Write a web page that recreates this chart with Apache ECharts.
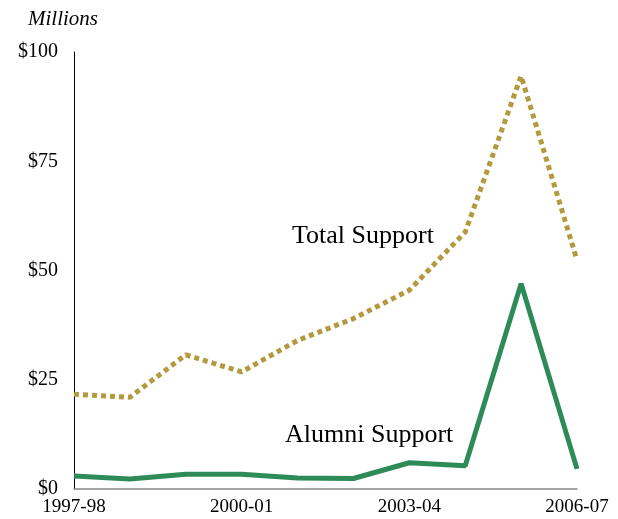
<!DOCTYPE html>
<html><head><meta charset="utf-8">
<script src="https://cdn.jsdelivr.net/npm/echarts@6/dist/echarts.min.js"></script>
<style>html,body{margin:0;padding:0;background:#fff}#c{width:618px;height:519px}</style>
</head><body><div id="c"></div>
<script>
var years = ['1997-98','1998-99','1999-00','2000-01','2001-02','2002-03','2003-04','2004-05','2005-06','2006-07'];
var totalSupport = [21.7, 21.0, 30.7, 26.8, 34.0, 39.0, 45.5, 58.8, 94.5, 52.4];
var alumniSupport = [3.0, 2.3, 3.4, 3.4, 2.5, 2.4, 6.0, 5.3, 47.0, 4.6];
var yTicks = [0, 25, 50, 75, 100];
var serif = '"Liberation Serif", "DejaVu Serif", serif';
var chart = echarts.init(document.getElementById('c'));
chart.setOption({
  animation: false,
  backgroundColor: '#fff',
  grid: {left: 74, right: 41, top: 52, bottom: 30, containLabel: false},
  xAxis: {
    type: 'category', data: years, boundaryGap: false,
    axisLine: {lineStyle: {color: '#888', width: 1.5}},
    axisTick: {show: false},
    axisLabel: {interval: 2, color: '#000', fontFamily: serif, fontSize: 19, margin: 9},
    splitLine: {show: false}
  },
  yAxis: {
    type: 'value', min: yTicks[0], max: yTicks[yTicks.length-1], interval: 25,
    axisLine: {show: true, lineStyle: {color: '#000', width: 1}},
    axisTick: {show: false},
    splitLine: {show: false},
    axisLabel: {color: '#000', fontFamily: serif, fontSize: 20, margin: 16, formatter: function(v){return '$' + v;}}
  },
  series: [
    {name: 'Total Support', type: 'line', data: totalSupport, symbol: 'none',
     lineStyle: {color: '#b39a3f', width: 5, type: [5, 4]}},
    {name: 'Alumni Support', type: 'line', data: alumniSupport, symbol: 'none',
     lineStyle: {color: '#2e8b57', width: 5}}
  ],
  graphic: [
    {type: 'text', left: 28, top: 9, style: {text: 'Millions', font: 'italic 21px ' + serif, fill: '#000'}},
    {type: 'text', left: 292, top: 223, style: {text: 'Total Support', font: '26px ' + serif, fill: '#000'}},
    {type: 'text', left: 285, top: 422, style: {text: 'Alumni Support', font: '26px ' + serif, fill: '#000'}}
  ]
});
</script></body></html>
